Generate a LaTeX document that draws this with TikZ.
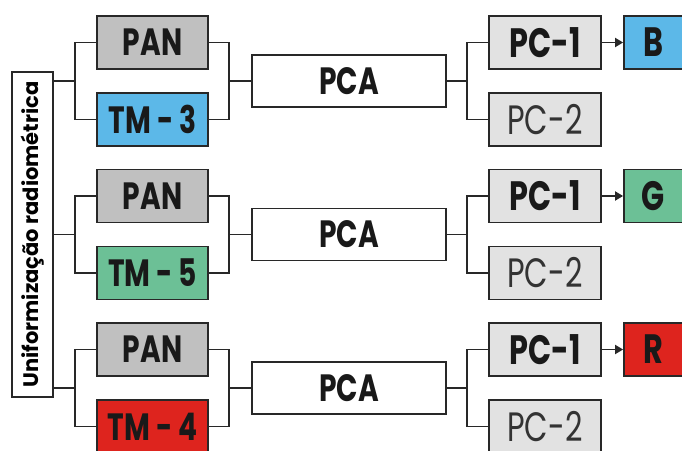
\documentclass[tikz,border=0pt]{standalone}
\usepackage{fontspec}
\usetikzlibrary{arrows.meta}
\newfontfamily\boxfont{Poppins}[FakeStretch=0.74]
\newfontfamily\sidefont{Poppins}
\definecolor{lineGray}{RGB}{40,40,40}
\definecolor{panGray}{RGB}{192,192,192}
\definecolor{pcGray}{RGB}{226,226,226}
\definecolor{bandBlue}{RGB}{92,184,232}
\definecolor{bandGreen}{RGB}{108,192,150}
\definecolor{bandRed}{RGB}{222,36,30}
\newcommand{\labelfont}{\boxfont\fontsize{38}{40}\selectfont}
\newcommand{\pclabelfont}{\boxfont\fontsize{41}{43}\selectfont}

\tikzset{
	box/.style={rectangle, draw=lineGray, line width=1.8pt, minimum height=53pt, inner sep=0pt, text=black!90, font=\labelfont\bfseries},
	inBox/.style={box, minimum width=111pt},
	pcBox/.style={box, fill=pcGray, minimum width=112pt, font=\pclabelfont\bfseries},
	bandBox/.style={box, minimum width=59pt, font=\pclabelfont\bfseries},
	wire/.style={draw=lineGray, line width=1.8pt}
}

\begin{document}
\begin{tikzpicture}[x=1pt, y=-1pt]
	\useasboundingbox (0,0) rectangle (682,450);

	\node[rectangle, draw=lineGray, line width=1.8pt, minimum width=41pt, minimum height=325pt, inner sep=0pt](uniBox) at (32.5,234.5){\rotatebox{90}{\sidefont\fontsize{21}{22}\selectfont\bfseries Uniformização radiométrica}};

	% first band
	\node[inBox, fill=panGray](panBoxA) at (152.5,42.5){PAN};
	\node[inBox, fill=bandBlue](tmBoxA) at (152.5,119.5){TM - 3};
	\node[box, minimum width=194pt, minimum height=52pt](pcaBoxA) at (349,81){PCA};
	\node[pcBox](pcOneBoxA) at (545,42.5){PC-1};
	\node[pcBox, font=\pclabelfont, text=black!80](pcTwoBoxA) at (545,119.5){PC-2};
	\node[bandBox, fill=bandBlue](bandBoxA) at (653.5,42.5){B};

	% second band
	\node[inBox, fill=panGray](panBoxB) at (152.5,196){PAN};
	\node[inBox, fill=bandGreen](tmBoxB) at (152.5,273){TM - 5};
	\node[box, minimum width=194pt, minimum height=52pt](pcaBoxB) at (349,234.5){PCA};
	\node[pcBox](pcOneBoxB) at (545,196){PC-1};
	\node[pcBox, font=\pclabelfont, text=black!80](pcTwoBoxB) at (545,273){PC-2};
	\node[bandBox, fill=bandGreen](bandBoxB) at (653.5,196){G};

	% third band
	\node[inBox, fill=panGray](panBoxC) at (152.5,349.5){PAN};
	\node[inBox, fill=bandRed](tmBoxC) at (152.5,426.5){TM - 4};
	\node[box, minimum width=194pt, minimum height=52pt](pcaBoxC) at (349,388){PCA};
	\node[pcBox](pcOneBoxC) at (545,349.5){PC-1};
	\node[pcBox, font=\pclabelfont, text=black!80](pcTwoBoxC) at (545,426.5){PC-2};
	\node[bandBox, fill=bandRed](bandBoxC) at (653.5,349.5){R};

	% bracket joints
	\coordinate (inJointA) at (75,81);
	\coordinate (inJointB) at (75,234.5);
	\coordinate (inJointC) at (75,388);
	\coordinate (pcaJointA) at (229,81);
	\coordinate (pcaJointB) at (229,234.5);
	\coordinate (pcaJointC) at (229,388);
	\coordinate (pcJointA) at (467,81);
	\coordinate (pcJointB) at (467,234.5);
	\coordinate (pcJointC) at (467,388);

	\draw[wire] (uniBox.east |- inJointA) -- (inJointA);
	\draw[wire] (uniBox.east |- inJointB) -- (inJointB);
	\draw[wire] (uniBox.east |- inJointC) -- (inJointC);

	\draw[wire] (panBoxA.west) -| (inJointA) |- (tmBoxA.west);
	\draw[wire] (panBoxB.west) -| (inJointB) |- (tmBoxB.west);
	\draw[wire] (panBoxC.west) -| (inJointC) |- (tmBoxC.west);

	\draw[wire] (panBoxA.east) -| (pcaJointA) |- (tmBoxA.east);
	\draw[wire] (panBoxB.east) -| (pcaJointB) |- (tmBoxB.east);
	\draw[wire] (panBoxC.east) -| (pcaJointC) |- (tmBoxC.east);
	\draw[wire] (pcaJointA) -- (pcaBoxA.west);
	\draw[wire] (pcaJointB) -- (pcaBoxB.west);
	\draw[wire] (pcaJointC) -- (pcaBoxC.west);

	\draw[wire] (pcaBoxA.east) -- (pcJointA);
	\draw[wire] (pcaBoxB.east) -- (pcJointB);
	\draw[wire] (pcaBoxC.east) -- (pcJointC);
	\draw[wire] (pcOneBoxA.west) -| (pcJointA) |- (pcTwoBoxA.west);
	\draw[wire] (pcOneBoxB.west) -| (pcJointB) |- (pcTwoBoxB.west);
	\draw[wire] (pcOneBoxC.west) -| (pcJointC) |- (pcTwoBoxC.west);

	\draw[wire, -{Triangle[length=8pt, width=9pt]}] (pcOneBoxA) -- (bandBoxA);
	\draw[wire, -{Triangle[length=8pt, width=9pt]}] (pcOneBoxB) -- (bandBoxB);
	\draw[wire, -{Triangle[length=8pt, width=9pt]}] (pcOneBoxC) -- (bandBoxC);
\end{tikzpicture}
\end{document}
